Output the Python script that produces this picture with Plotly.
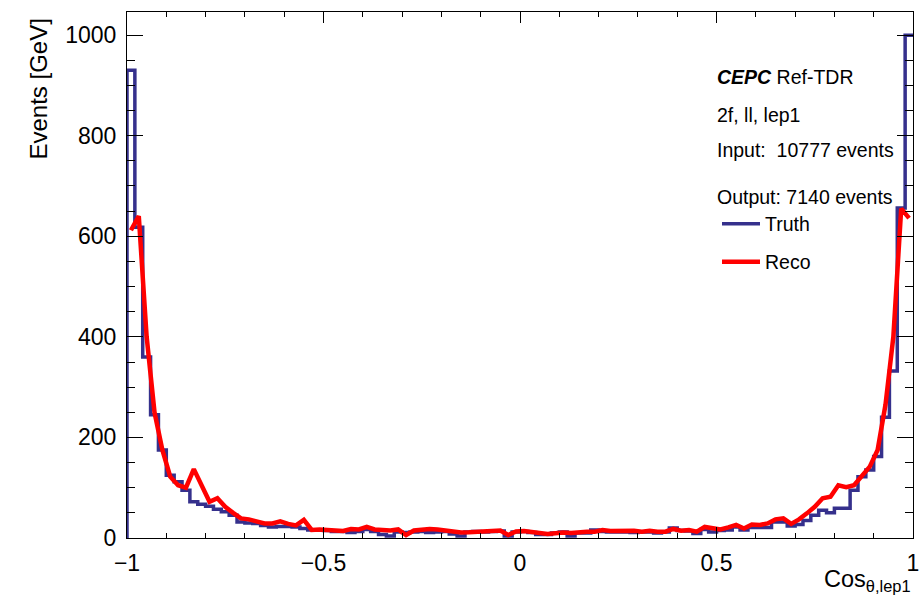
import numpy as np
import plotly.graph_objects as go

# ---- data ----
x_min, x_max, n_bins = -1.0, 1.0, 100

truth = [930, 618, 360, 245, 175, 125, 112, 95, 72, 67,
         63, 57, 52, 45, 32, 30, 29, 25, 22, 23,
         23, 22, 19, 16, 16, 15, 13, 13, 11, 13,
         17, 13, 7, 4, 12, 11, 12, 13, 11, 12,
         13, 8, 4, 12, 13, 12, 13, 14, 4, 12,
         13, 11, 7, 7, 10, 12, 4, 10, 10, 16,
         13, 12, 12, 12, 11, 12, 12, 10, 12, 20,
         15, 14, 9, 17, 12, 15, 16, 22, 16, 21,
         21, 21, 32, 32, 24, 27, 35, 45, 55, 50,
         59, 59, 95, 122, 135, 162, 240, 332, 656, 1000]

reco = [612, 640, 400, 250, 175, 122, 105, 100, 137, 102,
        72, 79, 62, 50, 39, 37, 34, 29, 29, 33,
        28, 25, 36, 16, 17, 16, 14, 14, 18, 17,
        22, 17, 16, 15, 17, 6, 15, 17, 18, 17,
        15, 12, 11, 11.5, 12, 12, 13, 15, 6, 13,
        14, 12, 11, 8, 9.5, 11, 10, 12, 12.5, 12.5,
        16, 14, 14.6, 14.6, 14.6, 12.5, 14.6, 12.5, 12.5, 18,
        14.6, 16, 12.5, 22, 19, 17, 21, 26, 19, 27,
        26, 29, 37, 39, 28, 37, 49, 62, 79, 82,
        105, 101, 105, 125, 142, 175, 265, 400, 655, 636]

x_ticks = [-1, -0.5, 0, 0.5, 1]
x_tick_labels = ["\u22121", "\u22120.5", "0", "0.5", "1"]
y_ticks = [0, 200, 400, 600, 800, 1000]

info_lines = ["<b><i>CEPC</i></b> Ref-TDR", "2f, ll, lep1",
              "Input:  10777 events", "Output: 7140 events"]

# ---- derived ----
edges = np.linspace(x_min, x_max, n_bins + 1)
centers = 0.5 * (edges[:-1] + edges[1:])
step_x = np.concatenate([[edges[0]], edges])
step_y = np.concatenate([[0], truth, [truth[-1]]])

FONT = "Liberation Sans, Arial, Helvetica, sans-serif"
BLUE = "#35308c"
RED = "#ff0000"

fig = go.Figure()
fig.add_trace(go.Scatter(x=step_x, y=step_y, mode="lines", line_shape="hv",
                         line=dict(color=BLUE, width=3.5), name="Truth",
                         legend="legend", showlegend=True))
fig.add_trace(go.Scatter(x=centers, y=reco, mode="lines",
                         line=dict(color=RED, width=4.5), name="Reco",
                         legend="legend2", showlegend=True))

W, H = 921, 602
L, R, T, B = 127, 8, 12, 64
pw, ph = W - L - R, H - T - B


def px(xp):
    return (xp - L) / pw


def py(yp):
    return (H - B - yp) / ph


LEG_X = 717
fig.update_layout(
    width=W, height=H,
    margin=dict(l=L, r=R, t=T, b=B, autoexpand=False),
    paper_bgcolor="white", plot_bgcolor="white",
    showlegend=True,
    font=dict(family=FONT, color="black"),
    legend=dict(x=px(LEG_X), y=py(224), xanchor="left", yanchor="middle",
                font=dict(size=19.5, family=FONT), bgcolor="rgba(0,0,0,0)",
                itemwidth=38),
    legend2=dict(x=px(LEG_X), y=py(262), xanchor="left", yanchor="middle",
                 font=dict(size=19.5, family=FONT), bgcolor="rgba(0,0,0,0)",
                 itemwidth=38),
)

fig.update_xaxes(range=[x_min, x_max], showgrid=False, zeroline=False,
                 automargin=False,
                 showline=True, linecolor="black", linewidth=1, mirror="allticks",
                 ticks="inside", ticklen=11, tickcolor="black",
                 tickvals=x_ticks, ticktext=x_tick_labels,
                 tickfont=dict(size=23, family=FONT), ticklabelstandoff=4,
                 minor=dict(dtick=0.1, tick0=0, ticks="inside", ticklen=5,
                            tickcolor="black", showgrid=False))
fig.update_yaxes(range=[0, 1046], showgrid=False, zeroline=False,
                 automargin=False,
                 showline=True, linecolor="black", linewidth=1, mirror="allticks",
                 ticks="inside", ticklen=16, tickcolor="black",
                 tickvals=y_ticks,
                 tickfont=dict(size=23, family=FONT), ticklabelstandoff=5,
                 minor=dict(dtick=50, tick0=0, ticks="inside", ticklen=8,
                            tickcolor="black", showgrid=False))

# axis titles
fig.add_annotation(xref="paper", yref="paper", x=1.0, y=py(580),
                   xanchor="right", yanchor="middle", showarrow=False,
                   text="Cos<sub>\u03b8,lep1</sub>", font=dict(size=23.5, family=FONT))
fig.add_annotation(xref="paper", yref="paper", x=px(38), y=py(17),
                   xanchor="center", yanchor="top", showarrow=False, textangle=-90,
                   text="Events [GeV]", font=dict(size=24, family=FONT))

# info text
for txt, ypix in zip(info_lines, [77, 115, 150, 197]):
    fig.add_annotation(xref="paper", yref="paper", x=px(715), y=py(ypix),
                       xanchor="left", yanchor="middle", showarrow=False,
                       text=txt, font=dict(size=19.5, family=FONT))

fig.write_html("out.html")
